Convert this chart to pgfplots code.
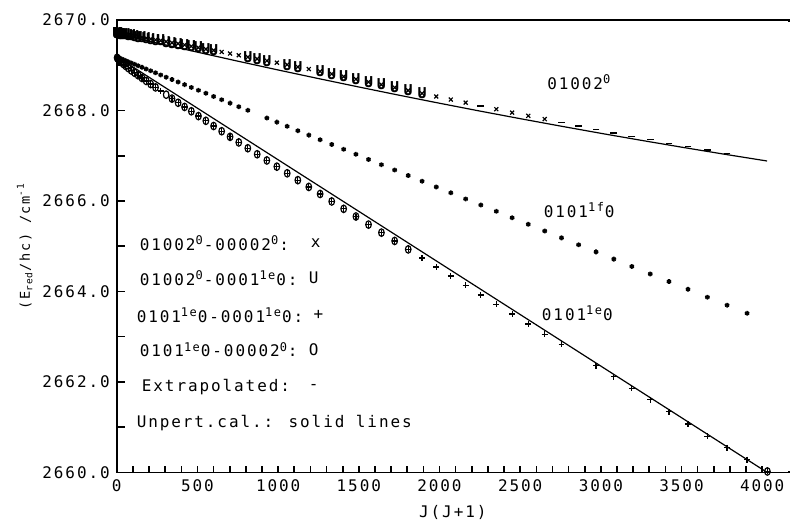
\documentclass[border=0pt]{standalone}
\usepackage{fontspec}
\setmainfont{DejaVu Sans Mono}[LetterSpace=12]
\usepackage{pgfplots}
\pgfplotsset{compat=1.18}

\begin{document}
\begin{tikzpicture}
\begin{axis}[
    scale only axis,
    width=336.5pt, height=226.5pt,
    font=\fontsize{8}{9.6}\selectfont,
    xmin=0, xmax=4165, ymin=2660, ymax=2670,
    enlargelimits=false,
    clip=false,
    axis line style={line width=0.8pt},
    xtick pos=left, ytick pos=left,
    xtick={0,500,...,4000}, ytick={2660,2662,...,2670},
    minor x tick num=4,
    tick align=inside,
    major tick length=3.2pt, minor tick length=3.2pt,
    every tick/.style={line width=0.8pt, black},
    /pgf/number format/assume math mode=true,
    /pgf/number format/1000 sep={},
    y tick label style={/pgf/number format/fixed, /pgf/number format/fixed zerofill, /pgf/number format/precision=1},
    xlabel={J(J+1)},
    ylabel={(E\textsubscript{red}/hc) /cm\textsuperscript{-1}},
    ylabel style={font=\fontsize{6.8}{7}\selectfont, at={(rel axis cs:-0.137,0.5)}, anchor=center},
    every axis plot/.append style={black},
]
% unperturbed calculations
\addplot[no marks, line width=0.6pt] table {
x y
0 2669.700
250 2669.492
500 2669.289
750 2669.090
1000 2668.895
1250 2668.705
1500 2668.519
1750 2668.337
2000 2668.160
2250 2667.987
2500 2667.819
2750 2667.655
3000 2667.495
3250 2667.340
3500 2667.189
3750 2667.042
4030 2666.883
};
\addplot[no marks, line width=0.6pt] table {
x y
0 2669.19
4030 2660.00
};
% 01002^0 - 00002^0 : x
\addplot[only marks, mark=x, mark size=1.4pt, line width=0.6pt] table {
x y
0 2669.710
2 2669.708
6 2669.705
12 2669.700
20 2669.698
30 2669.695
42 2669.685
56 2669.678
72 2669.670
90 2669.655
110 2669.643
132 2669.630
156 2669.615
182 2669.598
210 2669.580
240 2669.560
272 2669.544
306 2669.521
342 2669.497
380 2669.476
420 2669.448
462 2669.419
506 2669.389
552 2669.357
600 2669.329
650 2669.294
702 2669.258
756 2669.220
812 2669.181
870 2669.141
930 2669.099
992 2669.056
1056 2669.012
1122 2668.962
1190 2668.915
1260 2668.862
1332 2668.808
1406 2668.748
1482 2668.692
1560 2668.630
1640 2668.572
1722 2668.507
1806 2668.442
1892 2668.376
1980 2668.309
2070 2668.241
2162 2668.173
2352 2668.028
2450 2667.952
2550 2667.881
2652 2667.809
};
% 01002^0 - 0001^1e0 : U
\addplot[only marks, mark=text, text mark={\fontsize{7.5}{7.5}\selectfont\bfseries U}] table {
x y
0 2669.710
2 2669.708
6 2669.705
12 2669.700
20 2669.698
30 2669.695
42 2669.685
56 2669.678
72 2669.670
90 2669.655
110 2669.643
132 2669.630
156 2669.615
182 2669.598
210 2669.580
240 2669.560
272 2669.544
306 2669.521
342 2669.497
380 2669.476
420 2669.448
462 2669.419
506 2669.389
552 2669.357
600 2669.329
812 2669.181
870 2669.141
930 2669.099
1056 2669.012
1122 2668.962
1260 2668.862
1332 2668.808
1406 2668.748
1482 2668.692
1560 2668.630
1640 2668.572
1722 2668.507
1806 2668.442
1892 2668.376
};
% extrapolated : -
\addplot[only marks, mark=-, mark size=1.7pt, line width=0.7pt] table {
x y
2256 2668.103
2756 2667.731
2862 2667.658
2970 2667.584
3080 2667.505
3192 2667.430
3306 2667.356
3422 2667.275
3540 2667.200
3660 2667.124
3782 2667.049
};
% 0101^1f0 : *
\addplot[only marks, mark=asterisk, mark size=1.2pt, line width=0.8pt] table {
x y
2 2669.177
6 2669.171
12 2669.163
20 2669.151
30 2669.137
42 2669.119
56 2669.099
72 2669.076
90 2669.050
110 2669.021
132 2668.989
156 2668.954
182 2668.916
210 2668.876
240 2668.832
272 2668.786
306 2668.736
342 2668.684
380 2668.629
420 2668.571
462 2668.510
506 2668.446
552 2668.380
600 2668.310
650 2668.238
702 2668.162
756 2668.084
812 2668.003
930 2667.832
992 2667.742
1056 2667.649
1122 2667.553
1190 2667.455
1260 2667.353
1332 2667.249
1406 2667.141
1482 2667.031
1560 2666.918
1640 2666.802
1722 2666.683
1806 2666.561
1892 2666.437
1980 2666.309
2070 2666.179
2162 2666.045
2256 2665.909
2352 2665.770
2450 2665.628
2550 2665.483
2652 2665.335
2756 2665.184
2862 2665.030
2970 2664.874
3080 2664.714
3192 2664.552
3306 2664.386
3422 2664.218
3540 2664.047
3660 2663.873
3782 2663.696
3906 2663.516
};
% 0101^1e0 - 0001^1e0 : +
\addplot[only marks, mark=+, mark size=1.5pt, line width=0.6pt] table {
x y
2 2669.165
6 2669.146
12 2669.123
20 2669.094
30 2669.061
42 2669.024
56 2668.982
72 2668.935
90 2668.884
110 2668.833
132 2668.778
156 2668.718
182 2668.653
210 2668.584
240 2668.510
272 2668.432
342 2668.262
380 2668.170
420 2668.078
462 2667.982
506 2667.876
552 2667.771
600 2667.656
650 2667.541
702 2667.417
756 2667.294
812 2667.165
870 2667.032
930 2666.895
992 2666.758
1056 2666.611
1122 2666.460
1190 2666.310
1260 2666.154
1332 2665.989
1406 2665.825
1482 2665.656
1560 2665.477
1640 2665.299
1722 2665.116
1806 2664.929
1892 2664.737
1980 2664.540
2070 2664.339
2162 2664.133
2256 2663.923
2352 2663.713
2450 2663.499
2550 2663.280
2652 2663.056
2756 2662.828
2970 2662.358
3080 2662.111
3192 2661.859
3306 2661.603
3422 2661.337
3540 2661.067
3660 2660.800
3782 2660.545
3906 2660.280
4032 2660.020
};
% 0101^1e0 - 00002^0 : O
\addplot[only marks, mark=o, mark size=1.4pt, line width=0.6pt, mark options={yscale=1.35}] table {
x y
2 2669.165
6 2669.146
12 2669.123
20 2669.094
30 2669.061
42 2669.024
56 2668.982
72 2668.935
90 2668.884
110 2668.833
132 2668.778
156 2668.718
182 2668.653
210 2668.584
240 2668.510
306 2668.349
342 2668.262
380 2668.170
420 2668.078
462 2667.982
506 2667.876
552 2667.771
600 2667.656
650 2667.541
702 2667.417
756 2667.294
812 2667.165
870 2667.032
930 2666.895
992 2666.758
1056 2666.611
1122 2666.460
1190 2666.310
1260 2666.154
1332 2665.989
1406 2665.825
1482 2665.656
1560 2665.477
1640 2665.299
1722 2665.116
1806 2664.929
4032 2660.020
};
% y ticks every 1 cm^-1 (rel axis positions), drawn inward from the left axis line
\pgfplotsinvokeforeach{0.1,0.2,0.3,0.4,0.5,0.6,0.7,0.8,0.9}{
  \draw[line width=0.8pt] (rel axis cs:0,#1) -- (rel axis cs:0.0119,#1);
}
% curve labels
\node at (axis cs:2866,2668.63) {01002\textsuperscript{0}};
\node at (axis cs:2866,2665.80) {0101\textsuperscript{1f}0};
\node at (axis cs:2854,2663.52) {0101\textsuperscript{1e}0};
% key
\node[anchor=west] at (axis cs:99,2665.07) {01002\textsuperscript{0}-00002\textsuperscript{0}:};
\node[anchor=west] at (axis cs:99,2664.30) {01002\textsuperscript{0}-0001\textsuperscript{1e}0:};
\node[anchor=west] at (axis cs:80,2663.48) {0101\textsuperscript{1e}0-0001\textsuperscript{1e}0:};
\node[anchor=west] at (axis cs:99,2662.71) {0101\textsuperscript{1e}0-00002\textsuperscript{0}:};
\node[anchor=west] at (axis cs:112,2661.89) {Extrapolated:};
\node[anchor=west] at (axis cs:80,2661.09) {Unpert.cal.: solid lines};
\node at (axis cs:1232,2665.07) {x};
\node at (axis cs:1220,2664.30) {U};
\node at (axis cs:1250,2663.48) {+};
\node at (axis cs:1220,2662.71) {O};
\node at (axis cs:1220,2661.89) {-};
% the reference has no right-hand frame line
\draw[white, line width=2pt] (rel axis cs:1,0.004) -- (rel axis cs:1,0.996);
% page frame in the reference's proportions
\path (rel axis cs:-0.1738,-0.1104) rectangle (rel axis cs:1.0015,1.0442);
\end{axis}
\end{tikzpicture}
\end{document}
